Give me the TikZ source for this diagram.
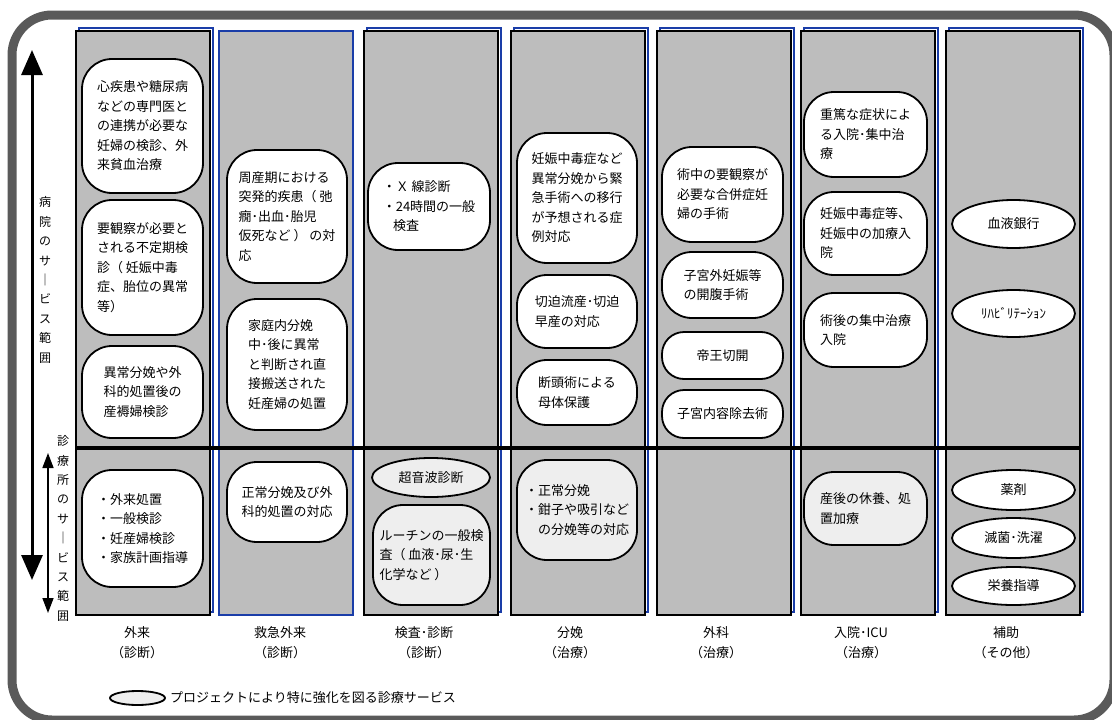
\documentclass[tikz,border=0pt]{standalone}
\usepackage{fontspec}
\setmainfont{Noto Sans CJK JP}
\usetikzlibrary{shapes.geometric,arrows.meta}
\definecolor{colgray}{HTML}{BDBDBD}
\definecolor{lightfill}{HTML}{EEEEEE}
\definecolor{framegray}{HTML}{5A5A5A}
\definecolor{shadowblue}{HTML}{1A3DA8}
\newcommand{\jpf}{\fontsize{13}{19.5}\selectfont}
\begin{document}
\begin{tikzpicture}[x=1pt,y=-1pt,
  colbox/.style={fill=colgray,draw=black,line width=2.2pt},
  colshadow/.style={draw=shadowblue,line width=2pt},
  box/.style={draw,line width=1.8pt,fill=white,inner sep=0pt,rounded corners=30pt,align=left,font=\jpf},
  ell/.style={draw,line width=1.8pt,fill=white,ellipse,inner sep=0pt,align=center,font=\jpf},
  emph/.style={fill=lightfill},
  lab/.style={align=center,font=\fontsize{13}{20}\selectfont},
  vtext/.style={align=center,inner sep=0pt,font=\fontsize{12}{19.4}\selectfont},
  bigarr/.style={line width=3pt,{Triangle[width=21pt,length=25pt]}-{Triangle[width=21pt,length=25pt]}},
  smallarr/.style={line width=1.6pt,{Triangle[width=11pt,length=15pt]}-{Triangle[width=11pt,length=15pt]}}
]
\useasboundingbox (0,0) rectangle (1112,720);
\clip (0,0) rectangle (1112,720);
% outer frame
\draw[framegray,line width=9pt,rounded corners=40pt] (12,15) rectangle (1114,720);
% columns
\foreach \x in {76,364,511,657,801,946}{
  \draw[colshadow] (\x+2.5,28) rectangle (\x+136.5,612);
  \draw[colbox] (\x,31) rectangle (\x+134,615);
}
\draw[colbox,draw=shadowblue] (219,31) rectangle (353,615);
% divider
\coordinate (divL) at (77,448);
\coordinate (divR) at (1081,448);
\draw[line width=4pt] (divL) -- (divR);
% arrows
\coordinate (au) at (32,50);
\coordinate (ad) at (32,580);
\draw[bigarr] (au) -- (ad);
\coordinate (su) at (48,453);
\coordinate (sd) at (48,613);
\draw[smallarr] (su) -- (sd);
\node[vtext] (vt1) at (45,280) {病\\院\\の\\サ\\｜\\ビ\\ス\\範\\囲};
\node[vtext] (vt2) at (63,528.5) {診\\療\\所\\の\\サ\\｜\\ビ\\ス\\範\\囲};
% column 1
\node[box,minimum width=121pt,minimum height=134pt] (A1) at (142.5,126) {心疾患や糖尿病\\などの専門医と\\の連携が必要な\\妊婦の検診、外\\来貧血治療};
\node[box,minimum width=121pt,minimum height=135pt] (A2) at (142.5,267.5) {要観察が必要と\\される不定期検\\診（ 妊娠中毒\\症、胎位の異常\\等）};
\node[box,minimum width=121pt,minimum height=92pt] (A3) at (142.5,392) {異常分娩や外\\科的処置後の\\産褥婦検診};
\node[box,minimum width=121pt,minimum height=117pt] (A4) at (142.5,528.5) {・外来処置\\・一般検診\\・妊産婦検診\\・家族計画指導};
% column 2
\node[box,minimum width=120pt,minimum height=133pt] (B1) at (287,216.5) {周産期における\\突発的疾患（ 弛\\癇･出血･胎児\\仮死など ） の対\\応};
\node[box,minimum width=120pt,minimum height=131pt] (B2) at (287,364.5) {家庭内分娩\\中･後に異常\\と判断され直\\接搬送された\\妊産婦の処置};
\node[box,minimum width=120pt,minimum height=80pt] (B3) at (287,502) {正常分娩及び外\\科的処置の対応};
% column 3
\node[box,minimum width=122pt,minimum height=87pt] (C1) at (429,206.5) {・Ｘ 線診断\\・24時間の一般\\\hspace*{0.8em}検査};
\node[ell,emph,minimum width=118pt,minimum height=39pt] (C2) at (431,477.5) {超音波診断};
\node[box,emph,minimum width=117pt,minimum height=100pt] (C3) at (431.5,555) {ルーチンの一般検\\査（ 血液･尿･生\\化学など ）};
% column 4
\node[box,minimum width=120pt,minimum height=130pt] (D1) at (577,198) {妊娠中毒症など\\異常分娩から緊\\急手術への移行\\が予想される症\\例対応};
\node[box,minimum width=120pt,minimum height=73pt] (D2) at (577,311.5) {切迫流産･切迫\\早産の対応};
\node[box,minimum width=120pt,minimum height=65pt] (D3) at (577,392.5) {断頭術による\\母体保護};
\node[box,emph,minimum width=120pt,minimum height=100pt] (D4) at (577,510) {・正常分娩\\・鉗子や吸引など\\\hspace*{1em}の分娩等の対応};
% column 5
\node[box,minimum width=121pt,minimum height=95pt] (E1) at (722.5,194.5) {術中の要観察が\\必要な合併症妊\\婦の手術};
\node[box,minimum width=121pt,minimum height=66pt] (E2) at (722.5,285) {子宮外妊娠等\\の開腹手術};
\node[box,rounded corners=22pt,align=center,minimum width=121pt,minimum height=47pt] (E3) at (722.5,355.5) {帝王切開};
\node[box,rounded corners=22pt,align=center,minimum width=121pt,minimum height=48pt] (E4) at (722.5,414) {子宮内容除去術};
% column 6
\node[box,minimum width=123pt,minimum height=85pt] (F1) at (865.5,134.5) {重篤な症状によ\\る入院･集中治\\療};
\node[box,minimum width=123pt,minimum height=83pt] (F2) at (865.5,233.5) {妊娠中毒症等、\\妊娠中の加療入\\院};
\node[box,minimum width=123pt,minimum height=74pt] (F3) at (865.5,330) {術後の集中治療\\入院};
\node[box,emph,minimum width=123pt,minimum height=73pt] (F4) at (865.5,508.5) {産後の休養、処\\置加療};
% column 7
\node[ell,minimum width=123pt,minimum height=48pt] (G1) at (1013.5,224) {血液銀行};
\node[ell,minimum width=123pt,minimum height=47pt] (G2) at (1013.5,313.5) {ﾘﾊﾋﾞﾘﾃｰｼｮﾝ};
\node[ell,minimum width=123pt,minimum height=40pt] (G3) at (1013.5,490) {薬剤};
\node[ell,minimum width=123pt,minimum height=40pt] (G4) at (1013.5,538) {滅菌･洗濯};
\node[ell,minimum width=123pt,minimum height=38pt] (G5) at (1013.5,586) {栄養指導};
% column labels
\node[lab] (L1) at (137,643) {外来\\（診断）};
\node[lab] (L2) at (280,643) {救急外来\\（診断）};
\node[lab] (L3) at (424,643) {検査･診断\\（診断）};
\node[lab] (L4) at (570,643) {分娩\\（治療）};
\node[lab] (L5) at (716,643) {外科\\（治療）};
\node[lab] (L6) at (861,643) {入院･ICU\\（治療）};
\node[lab] (L7) at (1006,643) {補助\\（その他）};
% legend
\node[ell,emph,minimum width=55pt,minimum height=14pt] (leg) at (137.5,698) {};
\node[anchor=west,inner sep=0pt,font=\fontsize{13}{15}\selectfont] (legtext) at (170,698) {プロジェクトにより特に強化を図る診療サービス};
\end{tikzpicture}
\end{document}
